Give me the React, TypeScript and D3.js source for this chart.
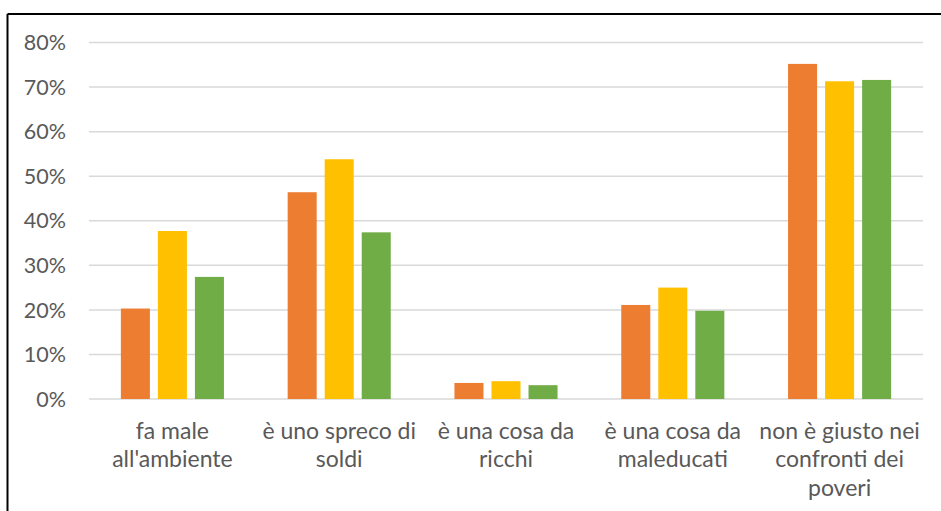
import React from "react";
import * as d3 from "d3";

const categories = [
  ["fa male", "all'ambiente"],
  ["è uno spreco di", "soldi"],
  ["è una cosa da", "ricchi"],
  ["è una cosa da", "maleducati"],
  ["non è giusto nei", "confronti dei", "poveri"],
];
const seriesA = [0.203, 0.464, 0.036, 0.211, 0.752];
const seriesB = [0.377, 0.538, 0.04, 0.25, 0.713];
const seriesC = [0.274, 0.374, 0.031, 0.198, 0.716];
const seriesColors = ["#ED7D31", "#FFC000", "#70AD47"];
const yTicks = [0, 0.1, 0.2, 0.3, 0.4, 0.5, 0.6, 0.7, 0.8];

const W = 941;
const H = 511;
const plot = { left: 89, right: 923, top: 42.5, bottom: 399 };
const FONT = "Lato, 'Open Sans', sans-serif";

export default function App() {
  const series = [seriesA, seriesB, seriesC];
  const x = d3
    .scaleBand<number>()
    .domain(categories.map((_, i) => i))
    .range([plot.left, plot.right])
    .paddingInner(0)
    .paddingOuter(0);
  const y = d3.scaleLinear().domain([0, 0.8]).range([plot.bottom, plot.top]);
  const band = x.bandwidth();
  const barW = band * 0.174;
  const step = band * 0.222;
  const fmt = d3.format(".0%");

  return (
    <svg
      width={W}
      height={H}
      style={{ position: "absolute", left: 0, top: 0, background: "#fff" }}
    >
      <rect x={0} y={0} width={W} height={H} fill="#fff" />
      <line x1={7.5} y1={14} x2={W + 2} y2={14} stroke="#000" strokeWidth={2} />
      <line x1={7.5} y1={14} x2={7.5} y2={H + 2} stroke="#000" strokeWidth={2} />
      {yTicks.map((t) => (
        <g key={t}>
          <line
            x1={plot.left}
            x2={plot.right}
            y1={y(t)}
            y2={y(t)}
            stroke="#D9D9D9"
            strokeWidth={1.5}
          />
          <text
            x={66}
            y={y(t)}
            dy="0.36em"
            textAnchor="end"
            fontFamily={FONT}
            fontSize={21.5}
            fill="#595959"
          >
            {fmt(t)}
          </text>
        </g>
      ))}
      {categories.map((_, i) => {
        const cx = (x(i) as number) + band / 2;
        return series.map((s, k) => {
          const bx = cx + (k - 1) * step - barW / 2;
          return (
            <rect
              key={`${i}-${k}`}
              x={bx}
              y={y(s[i])}
              width={barW}
              height={plot.bottom - y(s[i])}
              fill={seriesColors[k]}
            />
          );
        });
      })}
      {categories.map((lines, i) => {
        const cx = (x(i) as number) + band / 2;
        return (
          <text
            key={i}
            textAnchor="middle"
            fontFamily={FONT}
            fontSize={23}
            fill="#595959"
          >
            {lines.map((l, j) => (
              <tspan key={j} x={cx} y={438.5 + j * 28.6}>
                {l}
              </tspan>
            ))}
          </text>
        );
      })}
    </svg>
  );
}
